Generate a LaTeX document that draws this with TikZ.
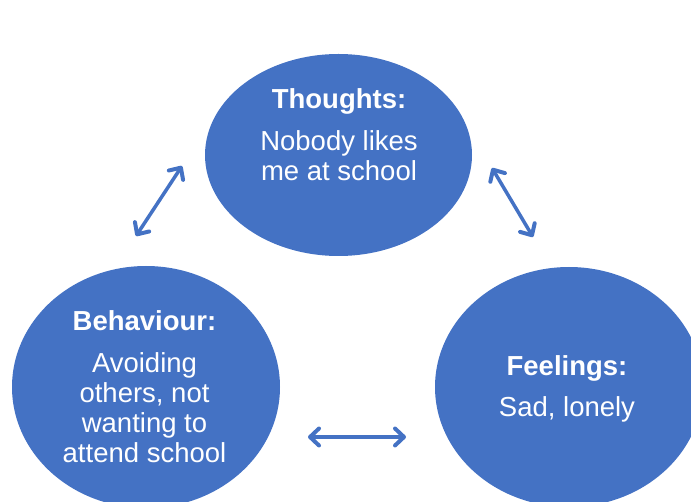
\documentclass[tikz,border=0pt]{standalone}
\usepackage{fontspec}
\setmainfont{Liberation Sans}
\usetikzlibrary{arrows.meta,shapes.geometric}
\definecolor{cbtblue}{HTML}{4472C4}
\begin{document}
\begin{tikzpicture}[x=1pt,y=-1pt,
  bubble/.style={ellipse, fill=cbtblue, draw=none, inner sep=0pt},
  bubbletext/.style={text=white, align=center, inner sep=0pt, anchor=north,
    font=\fontsize{27.5}{30}\selectfont},
  barb/.tip={Straight Barb[length=9pt,width=17pt,line width=4pt,line cap=round,line join=round]},
  link/.style={cbtblue, line width=3.5pt, barb-barb}]
  \useasboundingbox (0,0) rectangle (691,502);
  \clip (0,0) rectangle (691,502);

  % the three bubbles
  \node[bubble, minimum width=267pt, minimum height=202pt] (thoughts) at (338.5,155) {};
  \node[bubble, minimum width=268pt, minimum height=242pt] (behaviour) at (146,387) {};
  \node[bubble, minimum width=268pt, minimum height=240pt] (feelings) at (569,387) {};

  % bubble captions
  \node[bubbletext] (thoughtsText) at (339,88) {\textbf{Thoughts:}\\[12pt]Nobody likes\\me at school};
  \node[bubbletext] (behaviourText) at (144.5,310) {\textbf{Behaviour:}\\[12pt]Avoiding\\others, not\\wanting to\\attend school};
  \node[bubbletext] (feelingsText) at (567,355) {\textbf{Feelings:}\\[11pt]Sad, lonely};

  % arrow end points between the bubbles
  \coordinate (tbA) at (136,236);
  \coordinate (tbB) at (182,166);
  \coordinate (tfA) at (492,168);
  \coordinate (tfB) at (533,237);
  \coordinate (bfA) at (308,437);
  \coordinate (bfB) at (406,437);

  \draw[link] (tbA) -- (tbB);
  \draw[link] (tfA) -- (tfB);
  \draw[link] (bfA) -- (bfB);
\end{tikzpicture}
\end{document}
